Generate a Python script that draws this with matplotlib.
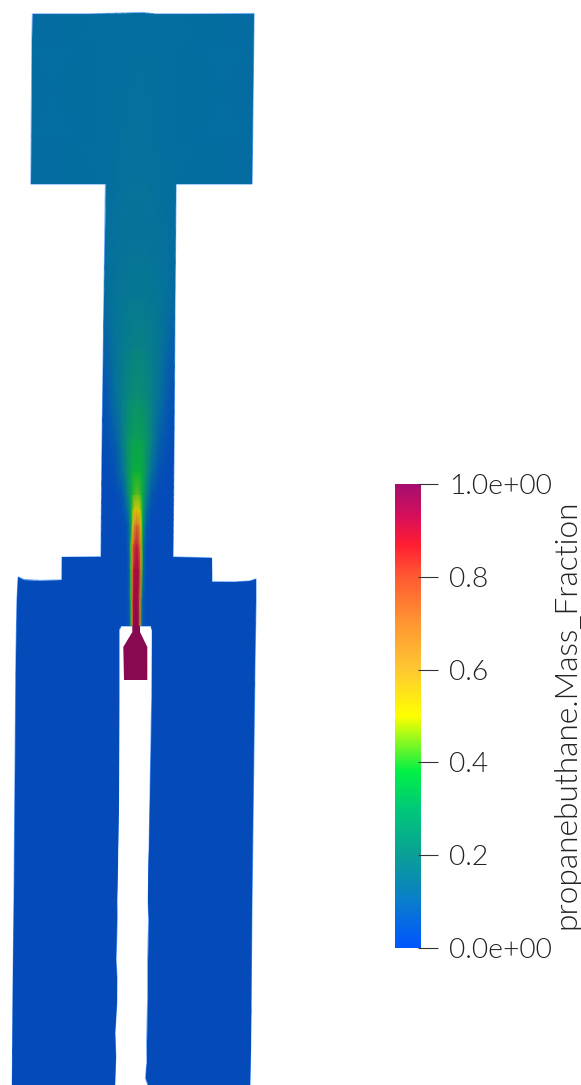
import numpy as np
from matplotlib import pyplot as plt
from matplotlib.cm import ScalarMappable
from matplotlib.colors import LinearSegmentedColormap, Normalize
from matplotlib.patches import Polygon

plt.rcParams['font.family'] = ['Lato', 'DejaVu Sans']
plt.rcParams['font.weight'] = 300

W, H = 581, 1085

# mass fraction: rows are image y, columns px from the jet axis
rows_y = [0, 184, 250, 300, 350, 400, 440, 473, 495, 510, 525, 545, 570, 600, 626, 1085]
axis_x = [138, 138, 138, 138, 138, 137.5, 137.5, 137, 137, 137, 137, 136.5, 136.5, 136, 136, 136]
offsets = [0, 2.5, 4, 5.5, 7, 10, 15, 22, 30, 40, 130]
fraction = [
    [.13, .13, .13, .13, .13, .13, .13, .13, .13, .13, .125],
    [.15, .15, .15, .15, .15, .15, .145, .14, .135, .13, .125],
    [.16, .16, .16, .16, .16, .16, .155, .15, .14, .13, .12],
    [.18, .18, .18, .18, .18, .175, .17, .16, .14, .11, .10],
    [.22, .22, .22, .215, .21, .205, .19, .165, .115, .07, .05],
    [.27, .27, .265, .26, .255, .24, .205, .14, .07, .02, 0],
    [.33, .33, .325, .32, .31, .28, .20, .10, .03, 0, 0],
    [.38, .38, .37, .36, .33, .26, .13, .04, 0, 0, 0],
    [.43, .42, .40, .37, .32, .20, .06, 0, 0, 0, 0],
    [.52, .50, .45, .39, .29, .12, .02, 0, 0, 0, 0],
    [.72, .66, .52, .38, .22, .05, 0, 0, 0, 0, 0],
    [.87, .80, .66, .42, .14, .01, 0, 0, 0, 0, 0],
    [.95, .89, .72, .42, .12, 0, 0, 0, 0, 0, 0],
    [.97, .91, .72, .36, .08, 0, 0, 0, 0, 0, 0],
    [1.0, .97, .70, .28, .03, 0, 0, 0, 0, 0, 0],
    [0, 0, 0, 0, 0, 0, 0, 0, 0, 0, 0],
]

# domain outline in image pixels, slot cut in from the bottom edge
domain_x = [32.5, 90, 143, 155, 200, 254, 253, 252, 176, 175, 174, 173, 211.5, 212, 235, 250,
            256, 256, 255, 252, 250.5, 250, 148, 145.5, 147, 146.7, 147.7, 147.7, 148.7, 148.3,
            150, 151.7, 152.3, 151, 121, 119.3, 119.3, 118.5, 117, 117.3, 116, 117, 116.7, 115,
            115.7, 114.7, 12.3, 13.3, 14, 16, 17, 18.3, 24, 40, 61.7, 62, 101, 102, 104, 105.5,
            31, 31.5, 32]
domain_y = [14, 14, 12.5, 14, 14, 13.5, 100, 184, 184, 300, 450, 557, 558, 581.7, 582, 581,
            579, 600, 660, 900, 1050, 1085, 1085, 1078, 1063, 1043, 1000, 960, 920, 900,
            800, 700, 630, 626, 626, 630, 700, 800, 900, 917, 960, 978, 1003, 1033,
            1057, 1085, 1085, 970, 900, 657, 600, 577, 579.5, 580.5, 580, 557.3, 556.7, 450, 300, 184,
            184, 100, 40]
nozzle_x = [132.3, 140, 140, 147.3, 147.3, 124, 123.3, 132.3]
nozzle_y = [626, 626, 632, 647, 680, 680, 647, 632]

# colours, separate for lit surface and legend bar
levels = [0, .10, .13, .20, .30, .38, .50, .60, .70, .80, .87, .93, 1]
surface_rgb = [(4, 75, 185), (5, 95, 170), (4, 110, 160), (8, 125, 140), (10, 150, 100), (10, 175, 60),
               (215, 205, 0), (220, 165, 40), (215, 125, 45), (205, 75, 50), (190, 25, 50),
               (160, 15, 70), (135, 10, 80)]
bar_rgb = [(0, 85, 255), (10, 125, 205), (10, 135, 185), (10, 160, 150), (0, 200, 120), (0, 240, 70),
           (255, 255, 0), (255, 200, 50), (255, 150, 50), (255, 90, 50), (255, 30, 50),
           (215, 15, 90), (165, 15, 110)]
bar_ticks = [0, .2, .4, .6, .8, 1]
bar_labels = ['0.0e+00', '0.2', '0.4', '0.6', '0.8', '1.0e+00']


def make_cmap(name, rgb):
    return LinearSegmentedColormap.from_list(name, [(v, np.array(c) / 255) for v, c in zip(levels, rgb)], N=512)


surface_cmap = make_cmap('surface', surface_rgb)
bar_cmap = make_cmap('bar', bar_rgb)
norm = Normalize(0, 1)

fig = plt.figure(figsize=(W / 100, H / 100), dpi=100)
ax = fig.add_axes([0, 0, 1, 1])
ax.set_xlim(0, W)
ax.set_ylim(H, 0)
ax.axis('off')

half = np.array(fraction)
off = np.array(offsets)
values = np.hstack([half[:, :0:-1], half])
full_off = np.concatenate([-off[:0:-1], off])
X = np.array(axis_x)[:, None] + full_off
Y = np.repeat(np.array(rows_y)[:, None], len(full_off), axis=1)

outline = Polygon(np.column_stack([domain_x, domain_y]), closed=True, fc='none', ec=(0.15, 0.5, 1), lw=0.9, alpha=0.65)
ax.add_patch(outline)
mesh = ax.pcolormesh(X, Y, values, cmap=surface_cmap, norm=norm, shading='gouraud')
mesh.set_clip_path(Polygon(np.column_stack([domain_x, domain_y]), closed=True, transform=ax.transData))
ax.add_patch(Polygon(np.column_stack([nozzle_x, nozzle_y]), closed=True, fc=surface_cmap(norm(1.0)), ec='none'))

# legend bar
cax = fig.add_axes([395 / W, 1 - 948 / H, 26 / W, 464 / H])
bar = fig.colorbar(ScalarMappable(norm=norm, cmap=bar_cmap), cax=cax)
bar.outline.set_visible(False)
bar.set_ticks(bar_ticks, labels=bar_labels)
cax.tick_params(length=0, pad=20.5, labelsize=20.3, labelcolor='#222222')
cax.hlines(bar_ticks, 0.88, 1.65, color='#333333', lw=0.8, transform=cax.get_yaxis_transform(), clip_on=False)

fig.text(567 / W, 1 - 714 / H, 'propanebuthane.Mass_Fraction', rotation=90, ha='center', va='center',
         fontsize=22.8, color='#222222')

fig.savefig('out.png', dpi=100)
